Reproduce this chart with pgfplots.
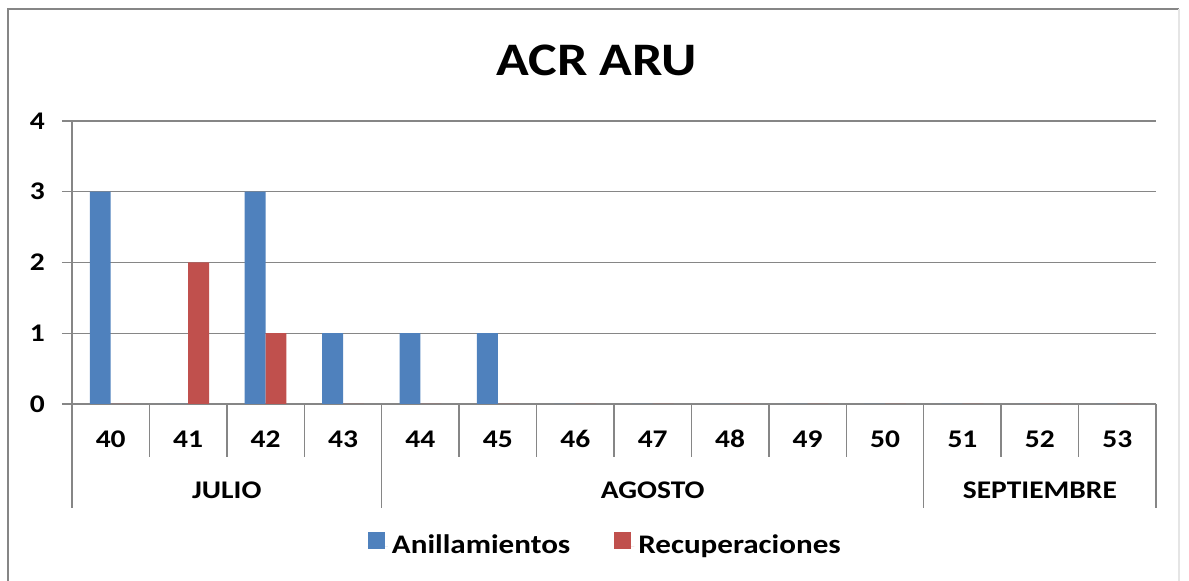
\documentclass[border=0pt]{standalone}
\usepackage{fontspec}
\setmainfont{Carlito}[FakeStretch=1.16]
\usepackage{pgfplots}
\pgfplotsset{compat=1.18}
\definecolor{serieA}{HTML}{4F81BD}
\definecolor{serieB}{HTML}{C0504D}
\definecolor{rejilla}{HTML}{868686}
\pgfplotsset{ybar legend/.style={legend image code/.code={%
    \fill[##1,draw=none] (0pt,-1.5pt) rectangle (8.5pt,7pt);
    \path (0pt,0pt) -- (10pt,0pt);}}}
\newcommand{\fuente}{\fontsize{12.7}{14}\selectfont\bfseries}
\begin{document}
\begin{tikzpicture}[font=\bfseries]
\useasboundingbox (0,0) rectangle (594.5pt,290.5pt);
\draw[rejilla, line width=1pt] (4pt,-5pt) -- (4pt,286pt) -- (589.5pt,286pt);
\draw[gray!20, line width=0.8pt] (589.5pt,286pt) -- (589.5pt,-5pt);
\begin{axis}[
    at={(36pt,88.5pt)}, anchor=south west,
    scale only axis, width=542pt, height=141.5pt,
    ybar, bar width=0.27,
    xmin=39.5, xmax=53.5, ymin=0, ymax=4,
    xtick={40,...,53}, ytick={0,...,4},
    ymajorgrids, grid style={rejilla, line width=0.7pt},
    axis lines=left, axis line style={-, rejilla, line width=0.7pt},
    tick align=outside, major tick length=5pt,
    xtick style={draw=none}, ytick style={rejilla, line width=0.7pt},
    /pgf/number format/assume math mode=true,
    ticklabel style={font=\fuente},
    xticklabel style={anchor=base, yshift=-17pt},
    yticklabel style={xshift=-5pt},
    title={ACR ARU},
    title style={font=\fontsize{23.3}{26}\selectfont\bfseries, anchor=base, at={(0.484,1)}, yshift=16.5pt},
    legend style={at={(0.493,-0.502)}, anchor=center, draw=none, legend columns=-1,
        font=\fontsize{13.4}{15}\selectfont\bfseries,
        /tikz/every even column/.append style={column sep=20pt}},
    clip=false,
]
\addplot[fill=serieA, draw=none, bar shift=-0.135] coordinates {
    (40,3) (41,0) (42,3) (43,1) (44,1) (45,1) (46,0)
    (47,0) (48,0) (49,0) (50,0) (51,0) (52,0) (53,0)
};
\addlegendentry{Anillamientos}
\addplot[fill=serieB, draw=none, bar shift=0.135] coordinates {
    (40,0) (41,2) (42,1) (43,0) (44,0) (45,0) (46,0)
    (47,0) (48,0) (49,0) (50,0) (51,0) (52,0) (53,0)
};
\addlegendentry{Recuperaciones}
% separadores de semanas y de meses
\pgfplotsinvokeforeach{40.5,41.5,42.5,44.5,45.5,46.5,47.5,48.5,49.5,51.5,52.5}{
    \draw[rejilla, line width=0.7pt] (axis cs:#1,0) -- ++(0pt,-26.5pt);
}
\pgfplotsinvokeforeach{39.5,43.5,50.5,53.5}{
    \draw[rejilla, line width=0.7pt] (axis cs:#1,0) -- ++(0pt,-52pt);
}
\node[anchor=base, font=\fuente] at ([yshift=-47.5pt]axis cs:41.5,0) {JULIO};
\node[anchor=base, font=\fuente] at ([yshift=-47.5pt]axis cs:47,0) {AGOSTO};
\node[anchor=base, font=\fuente] at ([yshift=-47.5pt]axis cs:52,0) {SEPTIEMBRE};
\end{axis}
\end{tikzpicture}
\end{document}
